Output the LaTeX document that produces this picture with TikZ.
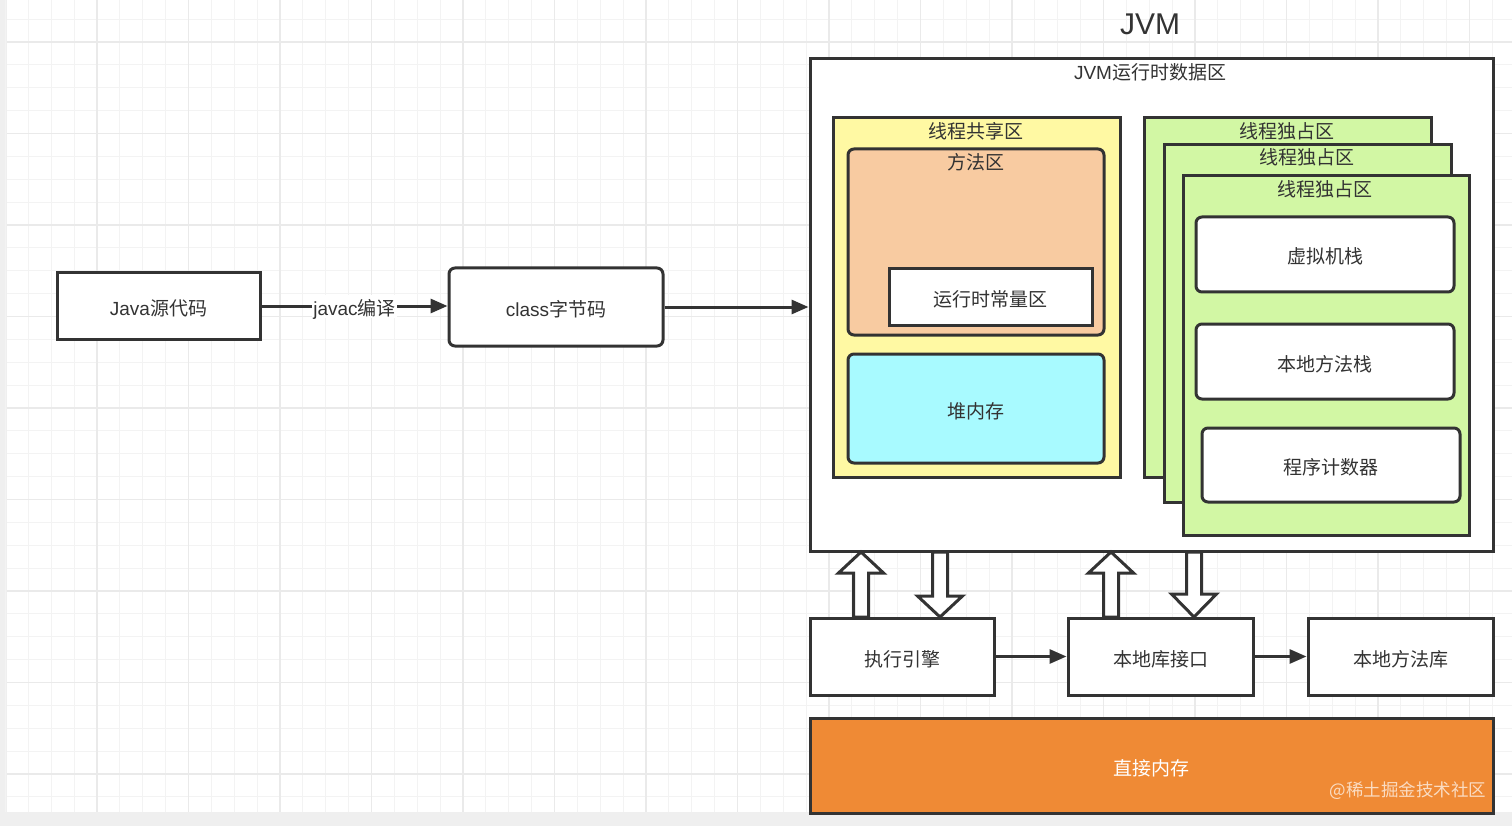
\documentclass[tikz,border=0pt]{standalone}
\usepackage{fontspec}
\setmainfont{Liberation Sans}
\newfontfamily\cjk{Noto Sans CJK SC}
\usetikzlibrary{arrows.meta}
\definecolor{ink}{HTML}{333333}
\definecolor{gridminor}{HTML}{F3F3F3}
\definecolor{gridmajor}{HTML}{EAEAEA}
\definecolor{pagegray}{HTML}{EFEFEF}
\definecolor{sharedfill}{HTML}{FFF9A3}
\definecolor{methodfill}{HTML}{F8CBA1}
\definecolor{heapfill}{HTML}{A8FAFF}
\definecolor{threadfill}{HTML}{D2F7A4}
\definecolor{directfill}{HTML}{EF8A35}
\tikzset{
  box/.style={draw=ink, line width=3pt, fill=white, inner sep=0pt, text=ink,
    text height=20pt, text depth=1pt,
    font=\fontsize{19}{23}\selectfont},
  rbox/.style={box, rounded corners=6pt},
  lbl/.style={text=ink, inner sep=0pt, font=\fontsize{19}{23}\selectfont},
  conn/.style={draw=ink, line width=3pt, -{Triangle[length=17pt,width=14pt]}},
  blockarrow/.style={draw=ink, line width=3pt, fill=white, line join=miter},
}
\begin{document}
\begin{tikzpicture}[x=1pt,y=-1pt]
\useasboundingbox (0,0) rectangle (1512,826);
% page and grid
\fill[pagegray] (0,0) rectangle (1512,826);
\fill[white] (7,0) rectangle (1512,812);
\foreach \i in {0,...,65} {
  \draw[gridminor, line width=1.2pt] ({5.5+22.875*\i},0) -- ({5.5+22.875*\i},812);
}
\foreach \j in {1,...,35} {
  \draw[gridminor, line width=1.2pt] (7,{-3.75+22.875*\j}) -- (1512,{-3.75+22.875*\j});
}
\foreach \i in {1,...,16} {
  \draw[gridmajor, line width=1.4pt] ({5.5+91.5*\i},0) -- ({5.5+91.5*\i},812);
}
\foreach \j in {0,...,8} {
  \draw[gridmajor, line width=1.4pt] (7,{42+91.5*\j}) -- (1512,{42+91.5*\j});
}

% left chain
\node[box, minimum width=203pt, minimum height=66pt] (src) at (158.5,306) {Java{\cjk 源代码}};
\node[rbox, minimum width=214pt, minimum height=78pt] (cls) at (556,307) {class{\cjk 字节码}};

% JVM
\node[lbl, font=\fontsize{30}{34}\selectfont] (title) at (1150,24) {JVM};
\node[box, minimum width=683pt, minimum height=492pt] (jvm) at (1151.5,305) {};
\node[lbl] (jvmlbl) at (1150,72) {JVM{\cjk 运行时数据区}};

% shared area
\node[box, fill=sharedfill, minimum width=287pt, minimum height=359pt] (shared) at (976.5,297.5) {};
\node[lbl] (sharedlbl) at (976,131) {\cjk 线程共享区};
\node[rbox, fill=methodfill, minimum width=256pt, minimum height=186pt] (method) at (976,242) {};
\node[lbl] (methodlbl) at (976,162) {\cjk 方法区};
\node[box, minimum width=203pt, minimum height=56pt] (const) at (990.5,297) {\cjk 运行时常量区};
\node[rbox, fill=heapfill, minimum width=256pt, minimum height=109pt] (heap) at (976,408.5) {\cjk 堆内存};

% thread-private areas
\node[box, fill=threadfill, minimum width=287pt, minimum height=359pt] (t1) at (1287.5,297.5) {};
\node[lbl] (t1lbl) at (1287,131) {\cjk 线程独占区};
\node[box, fill=threadfill, minimum width=287pt, minimum height=357pt] (t2) at (1307.5,323.5) {};
\node[lbl] (t2lbl) at (1307,157) {\cjk 线程独占区};
\node[box, fill=threadfill, minimum width=286pt, minimum height=359pt] (t3) at (1326,355.5) {};
\node[lbl] (t3lbl) at (1325,189) {\cjk 线程独占区};
\node[rbox, minimum width=258pt, minimum height=75pt] (vmstack) at (1325,254.5) {\cjk 虚拟机栈};
\node[rbox, minimum width=258pt, minimum height=75pt] (nstack) at (1325,361.5) {\cjk 本地方法栈};
\node[rbox, minimum width=258pt, minimum height=74pt] (pc) at (1331,465) {\cjk 程序计数器};

% bottom row
\node[box, minimum width=184pt, minimum height=77pt] (engine) at (902,656.5) {\cjk 执行引擎};
\node[box, minimum width=185pt, minimum height=77pt] (nif) at (1160.5,656.5) {\cjk 本地库接口};
\node[box, minimum width=185pt, minimum height=77pt] (nlib) at (1400.5,656.5) {\cjk 本地方法库};
\node[box, fill=directfill, text=white, minimum width=683pt, minimum height=95pt] (direct) at (1151.5,765.5) {\cjk 直接内存};
\node[inner sep=0pt, text=white, opacity=0.7, font=\fontsize{17.5}{20}\selectfont] (wm) at (1408,791) {\cjk @稀土掘金技术社区};

% connectors
\draw[conn] (src.east) -- node[fill=white, inner sep=1pt, text=ink, text height=20pt, text depth=1pt, font=\fontsize{19}{23}\selectfont] (javac) {javac{\cjk 编译}} (cls.west |- src.east);
\draw[conn] (cls.east) -- (jvm.west |- cls.east);
\draw[conn] (engine.east) -- (nif.west);
\draw[conn] (nif.east) -- (nlib.west);

% block arrows between JVM and bottom row
\draw[blockarrow] (861,552) -- (883.5,573) -- (868.5,573) -- (868.5,617) -- (853.5,617) -- (853.5,573) -- (838.5,573) -- cycle;
\draw[blockarrow] (940,617) -- (962.5,596) -- (947.5,596) -- (947.5,552) -- (932.5,552) -- (932.5,596) -- (917.5,596) -- cycle;
\draw[blockarrow] (1111,552) -- (1133.5,573) -- (1118.5,573) -- (1118.5,617) -- (1103.5,617) -- (1103.5,573) -- (1088.5,573) -- cycle;
\draw[blockarrow] (1194,617) -- (1216.5,594) -- (1201.5,594) -- (1201.5,552) -- (1186.5,552) -- (1186.5,594) -- (1171.5,594) -- cycle;
\end{tikzpicture}
\end{document}
